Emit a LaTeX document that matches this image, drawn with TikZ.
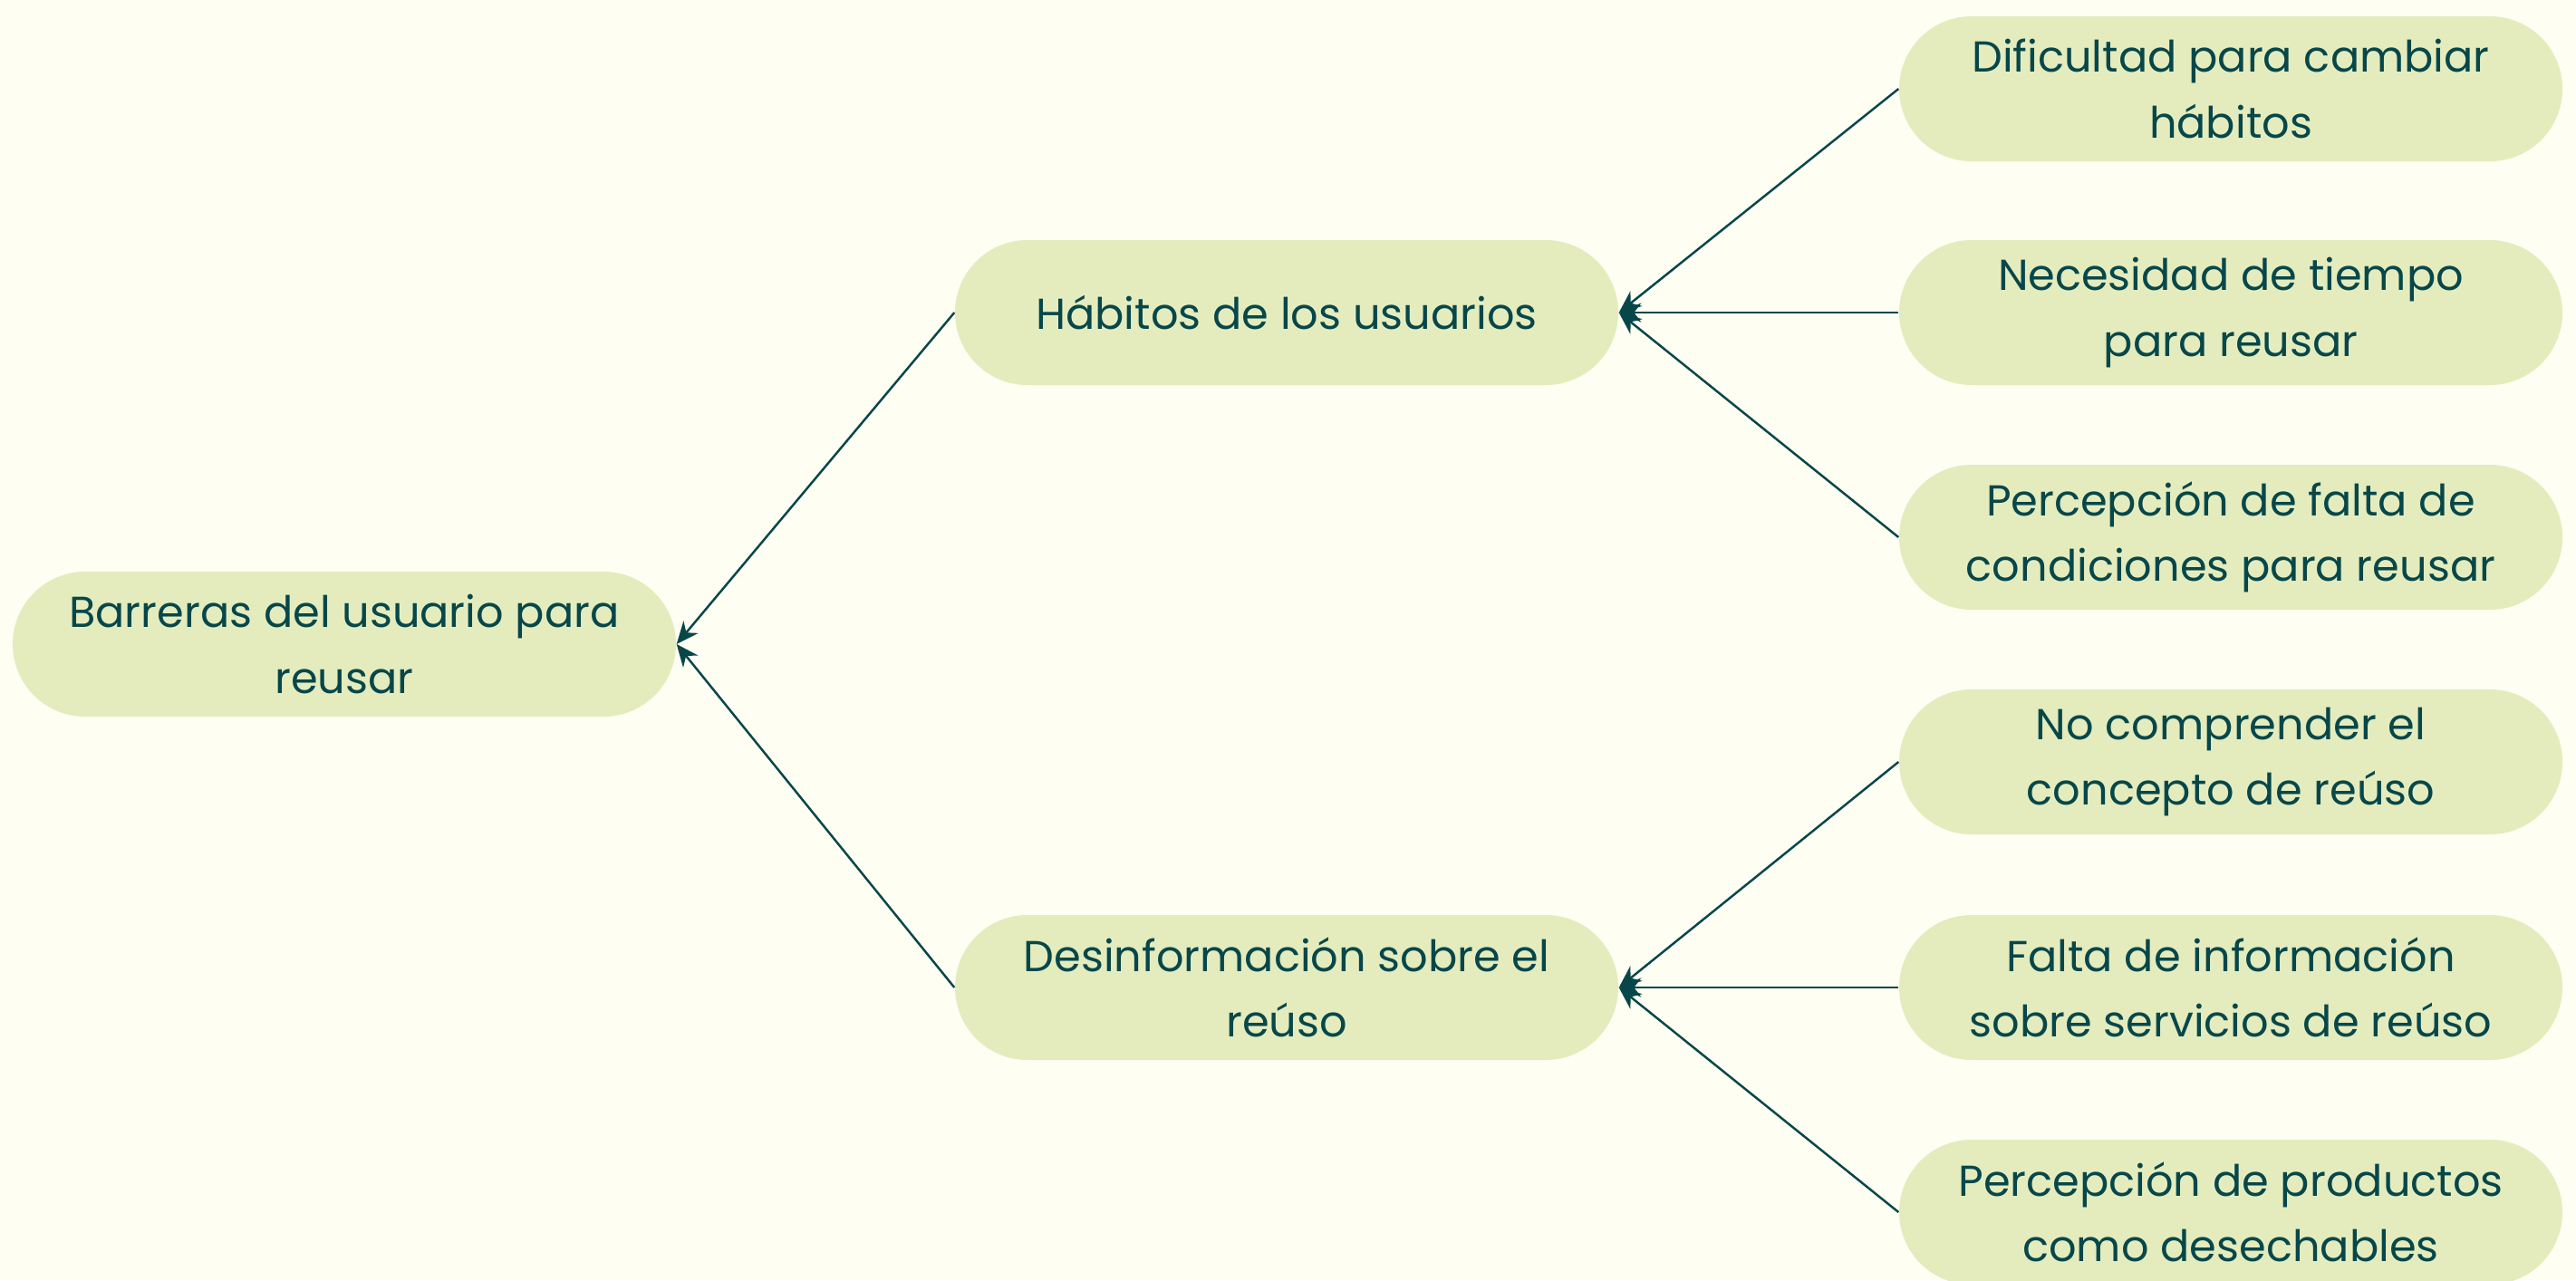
\documentclass[tikz,border=0pt]{standalone}
\usepackage{fontspec}
\setmainfont{Poppins}
\usetikzlibrary{arrows.meta}
\definecolor{fondo}{HTML}{FEFEF2}
\definecolor{relleno}{HTML}{E4ECBE}
\definecolor{tinta}{HTML}{07474A}
\tikzset{
  caja/.style={fill=relleno, text=tinta, rounded corners=0.8cm, align=center,
    minimum width=7.32cm, minimum height=1.6cm, inner sep=0pt,
    font=\fontsize{13.6}{20.6}\selectfont},
  flecha/.style={draw=tinta, line width=0.7pt, -{Stealth[length=7pt,width=6pt]}}
}
\begin{document}
\begin{tikzpicture}
    \fill[fondo] (0,0) rectangle (28.43,-14.13);% background
    \useasboundingbox (0,0) rectangle (28.43,-14.13);
    \node[caja] (barreras) at (3.80,-7.11) {Barreras del usuario para\\reusar};
    \node[caja] (habitos) at (14.20,-3.45) {Hábitos de los usuarios};
    \node[caja] (desinfo) at (14.20,-10.90) {Desinformación sobre el\\reúso};
    % right column
    \node[caja] (dificultad) at (24.62,-0.98) {Dificultad para cambiar\\hábitos};
    \node[caja] (tiempo) at (24.62,-3.45) {Necesidad de tiempo\\para reusar};
    \node[caja] (condiciones) at (24.62,-5.93) {Percepción de falta de\\condiciones para reusar};
    \node[caja] (concepto) at (24.62,-8.41) {No comprender el\\concepto de reúso};
    \node[caja] (servicios) at (24.62,-10.90) {Falta de información\\sobre servicios de reúso};
    \node[caja] (desechables) at (24.62,-13.38) {Percepción de productos\\como desechables};
    \draw[flecha] (habitos.west) -- (barreras.east);
    \draw[flecha] (desinfo.west) -- (barreras.east);
    \foreach \n in {dificultad,tiempo,condiciones}{%
      \draw[flecha] (\n.west) -- (habitos.east);}
    \foreach \n in {concepto,servicios,desechables}{%
      \draw[flecha] (\n.west) -- (desinfo.east);}
\end{tikzpicture}
\end{document}
